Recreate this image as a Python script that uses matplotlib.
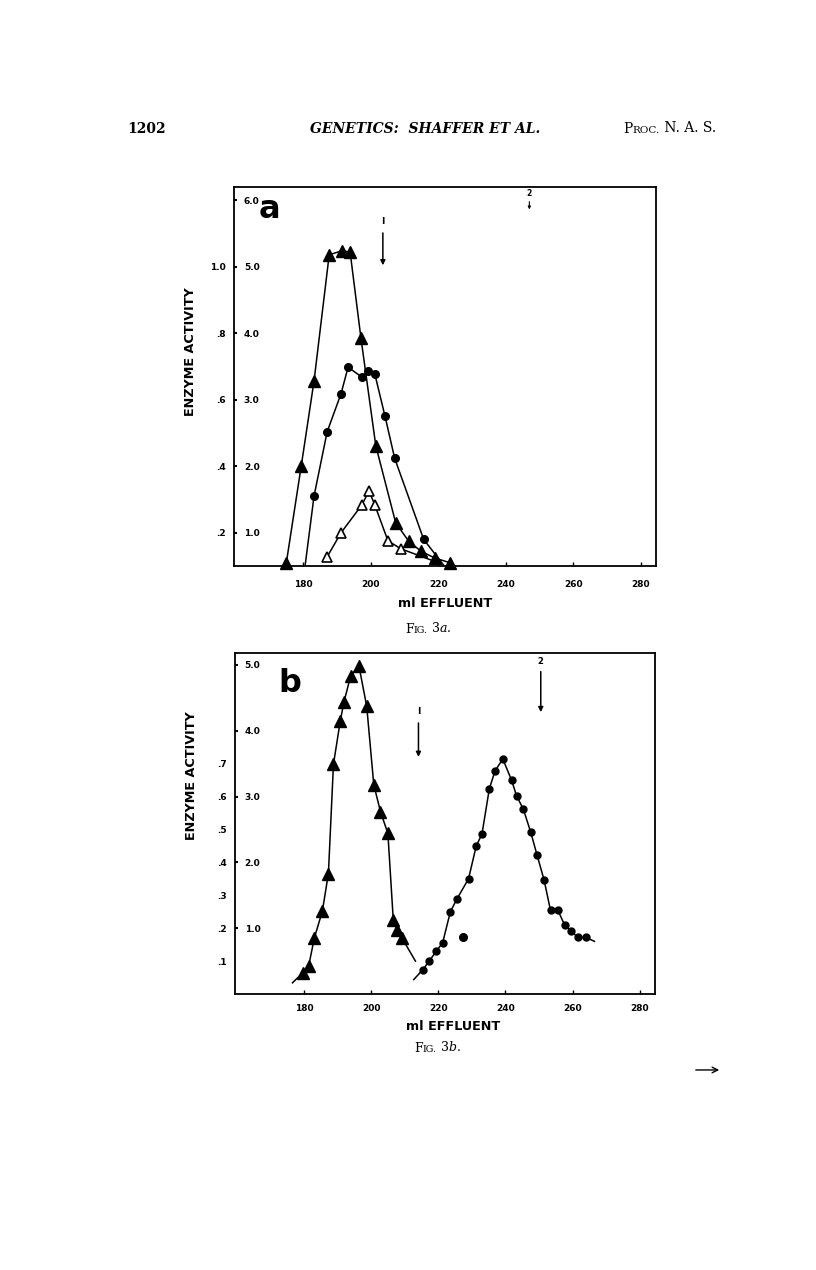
import matplotlib.pyplot as plt

plt.rcParams['font.family'] = 'DejaVu Sans'
plt.rcParams['font.weight'] = 'bold'

# ---- Fig. 3a data (ml effluent, enzyme activity on the inner scale) ----
tri_a_x = [175.0, 179.4, 183.2, 187.7, 191.5, 193.9, 197.1, 201.5, 207.4, 211.3, 215.0, 219.0, 223.5]
tri_a_y = [0.55, 2.00, 3.28, 5.18, 5.24, 5.22, 3.93, 2.31, 1.15, 0.87, 0.72, 0.62, 0.55]

dot_a_x = [183.2, 187.1, 191.2, 193.3, 197.4, 199.2, 201.2, 204.2, 207.1, 215.7]
dot_a_y = [1.55, 2.52, 3.09, 3.49, 3.34, 3.43, 3.39, 2.76, 2.12, 0.90]
dot_a_start = (180.6, 0.52)
dot_a_end = (221.5, 0.52)

open_a_x = [187.1, 191.2, 197.4, 199.5, 201.2, 205.1, 208.9]
open_a_y = [0.64, 1.00, 1.42, 1.63, 1.42, 0.88, 0.76]
open_a_end = (220.0, 0.55)

# ---- Fig. 3b data ----
tri_b_x = [179.6, 181.4, 183.1, 185.5, 187.3, 188.8, 190.8, 191.9, 193.9, 196.4,
           198.7, 200.8, 202.8, 205.0, 206.6, 207.6, 209.2]
tri_b_y = [0.32, 0.42, 0.85, 1.26, 1.83, 3.49, 4.14, 4.43, 4.83, 4.98,
           4.37, 3.18, 2.77, 2.44, 1.13, 0.98, 0.85]
tri_b_start = (176.6, 0.17)
tri_b_end = (213.2, 0.50)

dot_b_x = [215.4, 217.3, 219.4, 221.3, 223.6, 225.5, 229.0, 231.3, 233.0, 235.2, 236.9, 239.2,
           241.8, 243.3, 245.3, 247.5, 249.4, 251.5, 253.4, 255.6, 257.6, 259.6, 261.6, 263.9]
dot_b_y = [0.37, 0.50, 0.65, 0.78, 1.25, 1.44, 1.75, 2.25, 2.43, 3.12, 3.39, 3.57,
           3.25, 3.01, 2.81, 2.46, 2.11, 1.73, 1.27, 1.27, 1.05, 0.95, 0.86, 0.86]
dot_b_start = (212.7, 0.22)
dot_b_end = (266.5, 0.80)
dot_b_stray = (227.5, 0.86)

xticks = [180, 200, 220, 240, 260, 280]
inner_a = [1.0, 2.0, 3.0, 4.0, 5.0, 6.0]
outer_a = [0.2, 0.4, 0.6, 0.8, 1.0]
outer_a_labels = ['.2', '.4', '.6', '.8', '1.0']
inner_b = [1.0, 2.0, 3.0, 4.0, 5.0]
outer_b = [0.1, 0.2, 0.3, 0.4, 0.5, 0.6, 0.7]
outer_b_labels = ['.1', '.2', '.3', '.4', '.5', '.6', '.7']

fig = plt.figure(figsize=(8.16, 12.7), dpi=100)
page = fig.add_axes([0, 0, 1, 1], zorder=-1)
page.set_axis_off()
page.set_xlim(0, 1)
page.set_ylim(0, 1)

serif = 'DejaVu Serif'


def chain(x, y, parts, base=10):
    # small caps faked with pieces of different size, each one after the last
    prev = None
    for txt, size, st in parts:
        kw = dict(fontsize=size, family=serif, style=st, weight='normal', ha='left', va='bottom')
        if prev is None:
            prev = page.text(x, y, txt, transform=page.transAxes, **kw)
        else:
            dy = 0.24 * (base - size)
            prev = page.annotate(txt, xy=(1, 0), xycoords=prev, xytext=(0, dy),
                                 textcoords='offset points', **kw)


def style(ax, ylim, inner, outer, outer_labels):
    ax.set_xlim(159.5, 284.5)
    ax.set_ylim(*ylim)
    ax.set_xticks(xticks)
    ax.set_xticklabels([str(v) for v in xticks])
    ax.set_yticks(inner)
    ax.set_yticklabels([f"{v:.1f}" for v in inner])
    ax.tick_params(axis='x', direction='in', length=3, width=1, labelsize=6.5)
    ax.tick_params(axis='y', direction='in', length=2, width=1.5, pad=-7, labelsize=6.5)
    for lab in ax.get_yticklabels():
        lab.set_horizontalalignment('left')
    for s in ax.spines.values():
        s.set_linewidth(1.3)
    sec = ax.secondary_yaxis('left', functions=(lambda v: v / 5, lambda v: v * 5))
    sec.set_yticks(outer)
    sec.set_yticklabels(outer_labels)
    sec.tick_params(length=0, pad=6, labelsize=6.5)
    sec.spines['left'].set_visible(False)
    ax.set_ylabel("ENZYME ACTIVITY", fontsize=9.2, fontweight='bold')
    ax.set_xlabel("ml EFFLUENT", fontsize=9.2, fontweight='bold')


lw = 1.1

# ---------------- panel a ----------------
ax1 = fig.add_axes([0.2868, 0.5543, 0.517, 0.2985])
style(ax1, (0.5, 6.2), inner_a, outer_a, outer_a_labels)
ax1.tick_params(axis='x', pad=10)
ax1.plot(tri_a_x, tri_a_y, color='black', lw=lw, marker='^', ms=8, clip_on=False)
ax1.plot([dot_a_start[0]] + dot_a_x + [dot_a_end[0]], [dot_a_start[1]] + dot_a_y + [dot_a_end[1]],
         color='black', lw=lw)
ax1.plot(dot_a_x, dot_a_y, 'o', color='black', ms=5.5)
ax1.plot(open_a_x + [open_a_end[0]], open_a_y + [open_a_end[1]], color='black', lw=lw)
ax1.plot(open_a_x, open_a_y, '^', mfc='white', mec='black', mew=1.2, ms=6.5)
ax1.text(0.085, 0.94, 'a', transform=ax1.transAxes, fontsize=23, weight='heavy', ha='center', va='center')
ax1.annotate('', xy=(203.6, 4.98), xytext=(203.6, 5.55),
             arrowprops=dict(arrowstyle='-|>', color='black', lw=1.1, mutation_scale=7))
ax1.text(203.6, 5.62, 'I', fontsize=6.5, ha='center', va='bottom')
ax1.annotate('', xy=(247, 5.82), xytext=(247, 6.02),
             arrowprops=dict(arrowstyle='-|>', color='black', lw=0.8, mutation_scale=4))
ax1.text(247, 6.04, '2', fontsize=5.5, ha='center', va='bottom')
ax1.yaxis.set_label_coords(-0.088, 0.565)
ax1.xaxis.set_label_coords(0.5, -0.082)

# ---------------- panel b ----------------
ax2 = fig.add_axes([0.288, 0.2173, 0.5147, 0.2685])
style(ax2, (0.0, 5.18), inner_b, outer_b, outer_b_labels)
ax2.tick_params(axis='x', pad=7)
ax2.plot([tri_b_start[0]] + tri_b_x + [tri_b_end[0]], [tri_b_start[1]] + tri_b_y + [tri_b_end[1]],
         color='black', lw=lw)
ax2.plot(tri_b_x, tri_b_y, '^', color='black', ms=8)
ax2.plot([dot_b_start[0]] + dot_b_x + [dot_b_end[0]], [dot_b_start[1]] + dot_b_y + [dot_b_end[1]],
         color='black', lw=lw)
ax2.plot(dot_b_x, dot_b_y, 'o', color='black', ms=5)
ax2.plot([dot_b_stray[0]], [dot_b_stray[1]], 'o', color='black', ms=5.5)
ax2.text(0.131, 0.912, 'b', transform=ax2.transAxes, fontsize=23, weight='heavy', ha='center', va='center')
ax2.annotate('', xy=(214.1, 3.56), xytext=(214.1, 4.16),
             arrowprops=dict(arrowstyle='-|>', color='black', lw=1.1, mutation_scale=7))
ax2.text(214.1, 4.22, 'I', fontsize=6.5, ha='center', va='bottom')
ax2.annotate('', xy=(250.5, 4.24), xytext=(250.5, 4.94),
             arrowprops=dict(arrowstyle='-|>', color='black', lw=1.1, mutation_scale=7))
ax2.text(250.5, 4.98, '2', fontsize=6, ha='center', va='bottom')
ax2.yaxis.set_label_coords(-0.088, 0.64)
ax2.xaxis.set_label_coords(0.52, -0.075)

# ---------------- page text ----------------
page.text(127 / 816, 0.8953, '1202', fontsize=10, family=serif, weight='bold', ha='left', va='baseline')
page.text(425 / 816, 0.8953, 'GENETICS:  SHAFFER ET AL.', fontsize=10, family=serif, style='italic',
          weight='bold', ha='center', va='baseline')
chain(623 / 816, 0.893, [('P', 10, 'normal'), ('ROC.', 7.5, 'normal'), (' N. A. S.', 10, 'normal')])
chain(405 / 816, 0.4995, [('F', 9, 'normal'), ('IG.', 6.8, 'normal'), (' 3', 9, 'normal'),
                          ('a', 9, 'italic'), ('.', 9, 'normal')], base=9)
chain(414 / 816, 0.1695, [('F', 9, 'normal'), ('IG.', 6.8, 'normal'), (' 3', 9, 'normal'),
                          ('b', 9, 'italic'), ('.', 9, 'normal')], base=9)
page.annotate('', xy=(722 / 816, 0.1575), xytext=(693 / 816, 0.1575),
              arrowprops=dict(arrowstyle='->', color='black', lw=1.0))

fig.savefig('out.png', dpi=100)
